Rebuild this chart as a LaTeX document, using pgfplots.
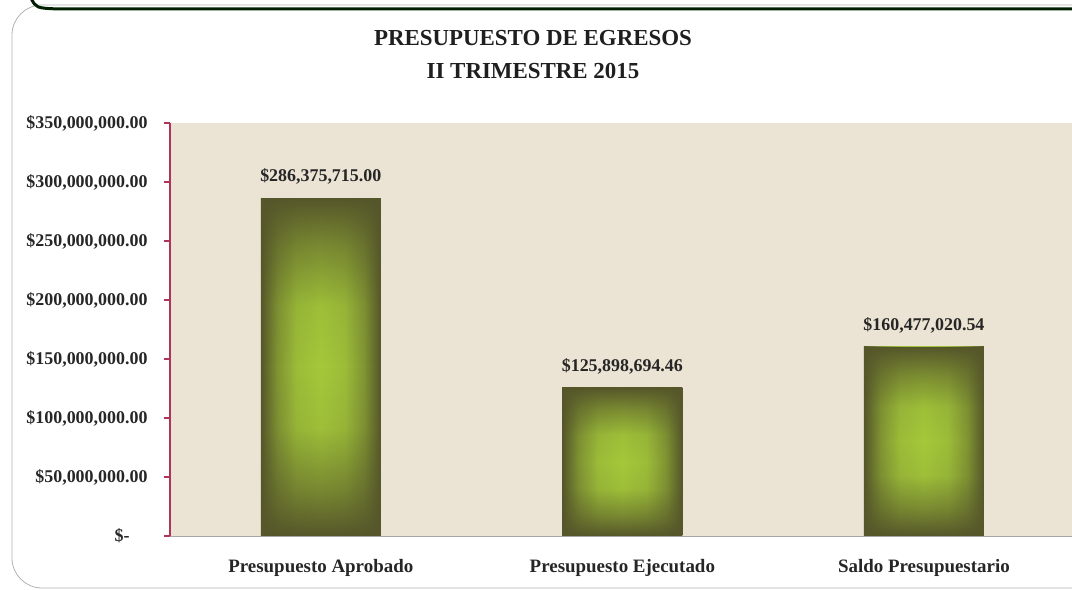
\documentclass[border=0pt]{standalone}
\usepackage{pgfplots}
\pgfplotsset{compat=1.18}
\usetikzlibrary{fadings}
\usepackage{fontspec}
\setmainfont{Liberation Serif}
\definecolor{bgbeige}{HTML}{EBE3D3}
\definecolor{axred}{HTML}{B0345A}
\definecolor{barin}{HTML}{A4C83A}
\definecolor{barout}{HTML}{55562A}
\pgfdeclarehorizontalshading{hbar}{100bp}{color(0bp)=(barout); color(25bp)=(barout); color(32bp)=(barin!55!barout); color(40bp)=(barin!90!barout); color(50bp)=(barin); color(60bp)=(barin!90!barout); color(68bp)=(barin!55!barout); color(75bp)=(barout); color(100bp)=(barout)}
\pgfdeclareverticalshading{vfs}{100bp}{color(0bp)=(white); color(25bp)=(white); color(32bp)=(black!45!white); color(41bp)=(black!92!white); color(50bp)=(black); color(59bp)=(black!92!white); color(68bp)=(black!45!white); color(75bp)=(white); color(100bp)=(white)}
\pgfdeclarefading{vfade}{\pgfuseshading{vfs}}
\begin{document}
\begin{tikzpicture}
\useasboundingbox (0,0) rectangle (1072bp,590bp);
\draw[gray!60, line width=0.8bp, rounded corners=30bp] (12bp,2bp) rectangle (1110bp,585bp);
\draw[black!80!green!60!black, line width=3bp] (31bp,592bp) .. controls (36bp,582bp) .. (58bp,581bp) -- (1080bp,581bp);
\node[font=\fontsize{23}{23}\selectfont\bfseries, text=black!88] at (533bp,552bp) {PRESUPUESTO DE EGRESOS};
\node[font=\fontsize{23}{23}\selectfont\bfseries, text=black!88] at (533bp,519bp) {II TRIMESTRE 2015};
\begin{axis}[
  at={(170bp,54bp)}, anchor=south west,
  scale only axis, width=902bp, height=413bp,
  xmin=-0.5, xmax=2.491, ymin=0, ymax=350000000,
  scaled y ticks=false,
  axis background/.style={fill=bgbeige},
  axis y line*=left, axis x line*=bottom,
  y axis line style={draw=axred, line width=1.6bp},
  x axis line style={draw=gray!70, line width=0.8bp},
  ytick={0,50000000,100000000,150000000,200000000,250000000,300000000,350000000},
  yticklabels={{\$-\kern18bp},{\$50,000,000.00},{\$100,000,000.00},{\$150,000,000.00},{\$200,000,000.00},{\$250,000,000.00},{\$300,000,000.00},{\$350,000,000.00}},
  tick align=outside, major tick length=6bp,
  y tick style={draw=axred, line width=1.6bp},
  xtick={0,1,2},
  xticklabels={Presupuesto Aprobado,Presupuesto Ejecutado,Saldo Presupuestario},
  x tick style={draw=none},
  extra x ticks={0.5,1.5},
  extra x tick labels={},
  extra x tick style={tick style={draw=gray!70, line width=0.8bp}},
  yticklabel style={font=\fontsize{18}{18}\selectfont\bfseries, text=black!85, xshift=-13bp},
  xticklabel style={font=\fontsize{19}{19}\selectfont\bfseries, text=black!85, yshift=-14bp},
  nodes near coords style={font=\fontsize{18}{18}\selectfont\bfseries, text=black!85, anchor=south, yshift=10bp},
  barbase/.style={ybar, bar width=120bp, bar shift=0pt, draw=none, mark=none, shading=hbar, point meta=explicit symbolic, nodes near coords},
  barfade/.style={ybar, bar width=120bp, bar shift=0pt, draw=none, mark=none, fill=barout, path fading=vfade},
]
\addplot[barbase] coordinates {(0,286375715.00)[\$286,375,715.00]};
\addplot[barfade] coordinates {(0,286375715.00)};
\addplot[barbase] coordinates {(1,125898694.46)[\$125,898,694.46]};
\addplot[barfade] coordinates {(1,125898694.46)};
\addplot[barbase] coordinates {(2,160477020.54)[\$160,477,020.54]};
\addplot[barfade] coordinates {(2,160477020.54)};
\end{axis}
\end{tikzpicture}
\end{document}
